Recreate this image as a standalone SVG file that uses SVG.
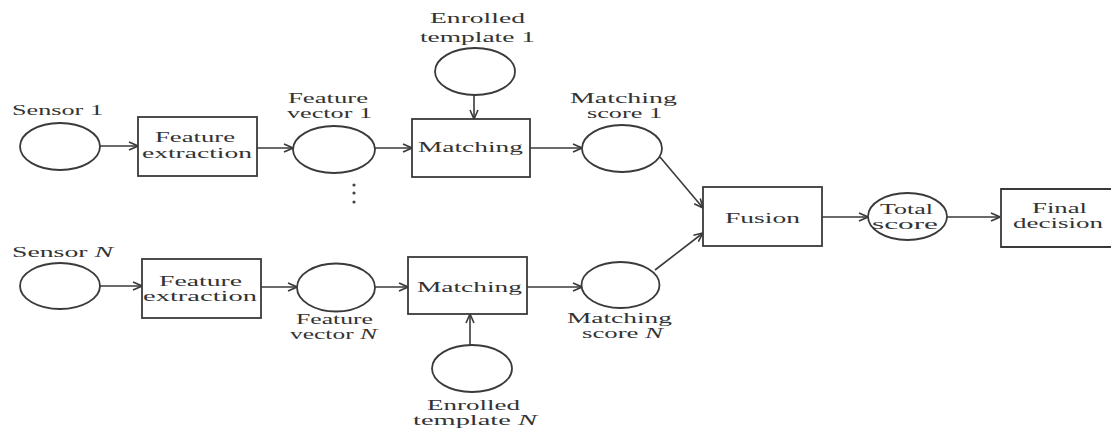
<svg xmlns="http://www.w3.org/2000/svg" width="1111" height="432" viewBox="0 0 1111 432">
<style>
.n{fill:#fff;stroke:#3a3a3a;stroke-width:1.8}
.t{font-family:"Liberation Serif",serif;font-size:15px;fill:#333}
.c{stroke:#3a3a3a;stroke-width:1.6;fill:none}
</style>
<defs>
<marker id="a" viewBox="0 0 10 10" refX="10" refY="5" markerWidth="10" markerHeight="10" markerUnits="userSpaceOnUse" orient="auto">
<path d="M1,1 L10,5 L1,9" fill="none" stroke="#3a3a3a" stroke-width="1.6"/>
</marker>
</defs>
<rect width="1111" height="432" fill="#fff"/>
<g id="connectors">
<line class="c" x1="100" y1="146" x2="138" y2="146" marker-end="url(#a)"/>
<line class="c" x1="257" y1="148" x2="293" y2="148" marker-end="url(#a)"/>
<line class="c" x1="375" y1="148" x2="412" y2="148" marker-end="url(#a)"/>
<line class="c" x1="474" y1="95" x2="474" y2="119" marker-end="url(#a)"/>
<line class="c" x1="530" y1="148" x2="582" y2="148" marker-end="url(#a)"/>
<line class="c" x1="660" y1="157" x2="703" y2="208" marker-end="url(#a)"/>
<line class="c" x1="99" y1="286" x2="142" y2="286" marker-end="url(#a)"/>
<line class="c" x1="261" y1="287" x2="297" y2="287" marker-end="url(#a)"/>
<line class="c" x1="375" y1="287" x2="408" y2="287" marker-end="url(#a)"/>
<line class="c" x1="470" y1="345" x2="470" y2="314" marker-end="url(#a)"/>
<line class="c" x1="527" y1="287" x2="582" y2="287" marker-end="url(#a)"/>
<line class="c" x1="655" y1="270" x2="703" y2="233" marker-end="url(#a)"/>
<line class="c" x1="822" y1="217" x2="868" y2="217" marker-end="url(#a)"/>
<line class="c" x1="947" y1="217" x2="1000" y2="217" marker-end="url(#a)"/>
</g>
<g id="dots" fill="#444">
<circle cx="354" cy="185" r="1.6"/>
<circle cx="354" cy="193" r="1.6"/>
<circle cx="354" cy="202" r="1.6"/>
</g>
<g id="sensor1">
<ellipse class="n" cx="60" cy="146.5" rx="40" ry="23.5"/>
<text class="t" x="12" y="115" textLength="91" lengthAdjust="spacingAndGlyphs">Sensor 1</text>
</g>
<g id="featext1">
<rect class="n" x="138" y="117" width="119" height="59"/>
<text class="t" x="155" y="142" textLength="80" lengthAdjust="spacingAndGlyphs">Feature</text>
<text class="t" x="142" y="158" textLength="110" lengthAdjust="spacingAndGlyphs">extraction</text>
</g>
<g id="featvec1">
<ellipse class="n" cx="334" cy="149.5" rx="41" ry="23.5"/>
<text class="t" x="288" y="103" textLength="80" lengthAdjust="spacingAndGlyphs">Feature</text>
<text class="t" x="287" y="118" textLength="85" lengthAdjust="spacingAndGlyphs">vector 1</text>
</g>
<g id="template1">
<ellipse class="n" cx="475" cy="71.5" rx="40" ry="23.5"/>
<text class="t" x="430" y="23" textLength="95" lengthAdjust="spacingAndGlyphs">Enrolled</text>
<text class="t" x="420" y="42" textLength="115" lengthAdjust="spacingAndGlyphs">template 1</text>
</g>
<g id="matching1">
<rect class="n" x="412" y="119" width="118" height="58"/>
<text class="t" x="418" y="152" textLength="105" lengthAdjust="spacingAndGlyphs">Matching</text>
</g>
<g id="score1">
<ellipse class="n" cx="622" cy="148.5" rx="40" ry="23.5"/>
<text class="t" x="570" y="103" textLength="107" lengthAdjust="spacingAndGlyphs">Matching</text>
<text class="t" x="587" y="118" textLength="75" lengthAdjust="spacingAndGlyphs">score 1</text>
</g>
<g id="sensorN">
<ellipse class="n" cx="60" cy="286" rx="40" ry="23"/>
<text class="t" x="12" y="257" textLength="101" lengthAdjust="spacingAndGlyphs">Sensor <tspan font-style="italic">N</tspan></text>
</g>
<g id="featextN">
<rect class="n" x="142" y="259" width="119" height="59"/>
<text class="t" x="159" y="286" textLength="83" lengthAdjust="spacingAndGlyphs">Feature</text>
<text class="t" x="143" y="301" textLength="114" lengthAdjust="spacingAndGlyphs">extraction</text>
</g>
<g id="featvecN">
<ellipse class="n" cx="336" cy="287.5" rx="39" ry="24"/>
<text class="t" x="296" y="324" textLength="77" lengthAdjust="spacingAndGlyphs">Feature</text>
<text class="t" x="290" y="339" textLength="87" lengthAdjust="spacingAndGlyphs">vector <tspan font-style="italic">N</tspan></text>
</g>
<g id="matchingN">
<rect class="n" x="408" y="257" width="119" height="57"/>
<text class="t" x="417" y="292" textLength="105" lengthAdjust="spacingAndGlyphs">Matching</text>
</g>
<g id="templateN">
<ellipse class="n" cx="472" cy="368.5" rx="40" ry="23.5"/>
<text class="t" x="427" y="410" textLength="93" lengthAdjust="spacingAndGlyphs">Enrolled</text>
<text class="t" x="413" y="425" textLength="124" lengthAdjust="spacingAndGlyphs">template <tspan font-style="italic">N</tspan></text>
</g>
<g id="scoreN">
<ellipse class="n" cx="620.5" cy="285" rx="39" ry="23"/>
<text class="t" x="567" y="323" textLength="105" lengthAdjust="spacingAndGlyphs">Matching</text>
<text class="t" x="582" y="338" textLength="81" lengthAdjust="spacingAndGlyphs">score <tspan font-style="italic">N</tspan></text>
</g>
<g id="fusion">
<rect class="n" x="703" y="187" width="119" height="59"/>
<text class="t" x="725" y="223" textLength="75" lengthAdjust="spacingAndGlyphs">Fusion</text>
</g>
<g id="totalscore">
<ellipse class="n" cx="907.5" cy="216.5" rx="39.5" ry="23.5"/>
<text class="t" x="880" y="214" textLength="53" lengthAdjust="spacingAndGlyphs">Total</text>
<text class="t" x="872" y="229" textLength="66" lengthAdjust="spacingAndGlyphs">score</text>
</g>
<g id="finaldecision">
<path class="n" d="M1116,189 H1001 V247 H1116"/>
<text class="t" x="1032" y="213" textLength="55" lengthAdjust="spacingAndGlyphs">Final</text>
<text class="t" x="1013" y="228" textLength="90" lengthAdjust="spacingAndGlyphs">decision</text>
</g>
</svg>
